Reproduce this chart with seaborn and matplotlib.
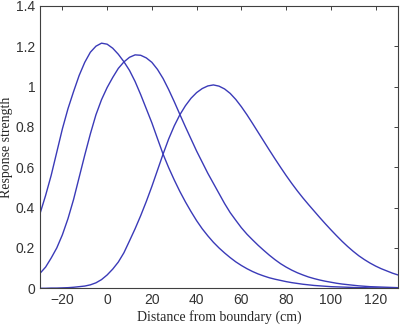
import numpy as np
import pandas as pd
import matplotlib
matplotlib.use('Agg')
import matplotlib.pyplot as plt
import seaborn as sns

# distance from boundary (cm), every 2.5 cm
distance = np.arange(-30, 130.1, 2.5)

# response strength of the three cells
cell_a = [0.37, 0.46, 0.56, 0.675,
          0.79, 0.89, 0.975, 1.055,
          1.12, 1.17, 1.20, 1.215,
          1.21, 1.19, 1.16, 1.123,
          1.08, 1.025, 0.96, 0.89,
          0.82, 0.742, 0.665, 0.598,
          0.537, 0.48, 0.428, 0.38,
          0.335, 0.295, 0.26, 0.228,
          0.20, 0.175, 0.152, 0.131,
          0.113, 0.097, 0.083, 0.071,
          0.061, 0.052, 0.045, 0.039,
          0.033, 0.028, 0.024, 0.02,
          0.017, 0.014, 0.012, 0.01,
          0.008, 0.007, 0.006, 0.005,
          0.004, 0.003, 0.003, 0.002,
          0.002, 0.001, 0.001, 0.001,
          0.001]
cell_b = [0.074, 0.105, 0.15, 0.20,
          0.265, 0.345, 0.44, 0.55,
          0.66, 0.765, 0.86, 0.935,
          0.995, 1.045, 1.09, 1.122,
          1.145, 1.157, 1.155, 1.142,
          1.12, 1.085, 1.04, 0.985,
          0.925, 0.862, 0.80, 0.74,
          0.68, 0.625, 0.57, 0.52,
          0.47, 0.42, 0.375, 0.337,
          0.30, 0.268, 0.24, 0.213,
          0.188, 0.164, 0.142, 0.122,
          0.105, 0.09, 0.077, 0.066,
          0.056, 0.048, 0.041, 0.035,
          0.03, 0.025, 0.021, 0.018,
          0.015, 0.012, 0.01, 0.008,
          0.007, 0.006, 0.005, 0.004,
          0.003]
cell_c = [0.0, 0.0, 0.001, 0.001,
          0.002, 0.003, 0.005, 0.008,
          0.011, 0.017, 0.027, 0.043,
          0.066, 0.095, 0.13, 0.176,
          0.235, 0.295, 0.36, 0.43,
          0.505, 0.585, 0.665, 0.74,
          0.805, 0.86, 0.905, 0.942,
          0.97, 0.99, 1.003, 1.008,
          1.002, 0.988, 0.966, 0.936,
          0.90, 0.86, 0.817, 0.773,
          0.729, 0.685, 0.642, 0.60,
          0.559, 0.52, 0.483, 0.448,
          0.415, 0.383, 0.351, 0.32,
          0.29, 0.261, 0.233, 0.207,
          0.183, 0.161, 0.142, 0.125,
          0.11, 0.097, 0.086, 0.075,
          0.066]

n = len(distance)
df = pd.DataFrame({
    'distance': np.tile(distance, 3),
    'response': cell_a + cell_b + cell_c,
    'cell': ['a'] * n + ['b'] * n + ['c'] * n,
})

sns.set_style('white')
line_color = '#3a3ab8'

fig = plt.figure(figsize=(4, 3.25), dpi=100)
ax = fig.add_axes([0.1, 0.113, 0.895, 0.869])
sns.lineplot(data=df, x='distance', y='response', hue='cell',
             palette=[line_color] * 3, linewidth=1.0, legend=False, ax=ax)

ax.set_xlim(-30, 130)
ax.set_ylim(0, 1.4)
ax.set_xticks(np.arange(-20, 121, 20))
ax.set_yticks(np.arange(0, 1.41, 0.2))
ax.set_yticklabels(['0', '0.2', '0.4', '0.6', '0.8', '1', '1.2', '1.4'])

for s in ax.spines.values():
    s.set_color('#404040')
    s.set_linewidth(0.8)
ax.tick_params(direction='in', length=3, width=0.7, color='#404040',
               top=True, right=True, labelsize=10, labelcolor='#333333')
for lab in ax.get_xticklabels() + ax.get_yticklabels():
    lab.set_family('Liberation Sans')

ax.set_xlabel('Distance from boundary (cm)', family='Liberation Serif', fontsize=10, labelpad=2)
ax.set_ylabel('Response strength', family='Liberation Serif', fontsize=10, labelpad=2)

fig.savefig('out.png', dpi=100)
